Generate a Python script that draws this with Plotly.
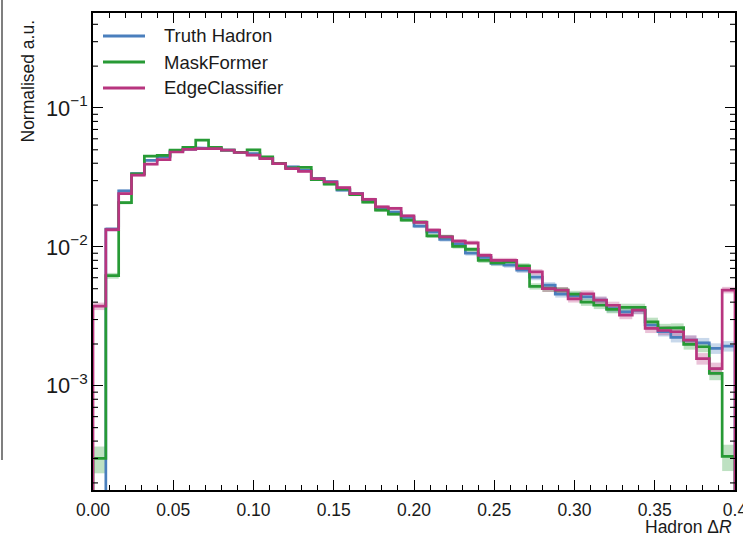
import numpy as np
import plotly.graph_objects as go

# ---------------- data ----------------
bin_lo = 0.0
bin_hi = 0.4
n_bins = 50

truth_hadron = [0.0, 1.34e-2, 2.53e-2, 3.37e-2, 4.2e-2, 4.44e-2, 4.9e-2, 5.05e-2, 5.15e-2, 5.1e-2,
                4.97e-2, 4.8e-2, 4.7e-2, 4.35e-2, 3.98e-2, 3.77e-2, 3.55e-2, 3.12e-2, 2.95e-2, 2.56e-2,
                2.42e-2, 2.18e-2, 1.9e-2, 1.78e-2, 1.63e-2, 1.41e-2, 1.28e-2, 1.13e-2, 1.05e-2, 9.0e-3,
                8.4e-3, 7.6e-3, 7.4e-3, 6.8e-3, 6.05e-3, 5.3e-3, 4.57e-3, 4.45e-3, 4.37e-3, 4.14e-3,
                3.6e-3, 3.4e-3, 3.5e-3, 2.74e-3, 2.45e-3, 2.23e-3, 2.13e-3, 2.04e-3, 1.86e-3, 1.93e-3]

maskformer = [3.0e-4, 6.2e-3, 2.08e-2, 3.35e-2, 4.5e-2, 4.55e-2, 4.97e-2, 5.21e-2, 5.86e-2, 5.2e-2,
              4.97e-2, 4.8e-2, 5.0e-2, 4.44e-2, 4.0e-2, 3.7e-2, 3.73e-2, 3.05e-2, 2.83e-2, 2.6e-2,
              2.38e-2, 2.1e-2, 1.84e-2, 1.72e-2, 1.56e-2, 1.51e-2, 1.2e-2, 1.18e-2, 1.01e-2, 9.6e-3,
              8.0e-3, 7.67e-3, 7.8e-3, 7.3e-3, 5.2e-3, 5.0e-3, 4.88e-3, 4.57e-3, 4.0e-3, 3.8e-3,
              3.55e-3, 3.67e-3, 3.67e-3, 2.89e-3, 2.6e-3, 2.62e-3, 1.99e-3, 1.91e-3, 1.23e-3, 3.1e-4]

edgeclassifier = [3.74e-3, 1.33e-2, 2.42e-2, 3.28e-2, 3.94e-2, 4.25e-2, 4.82e-2, 5.03e-2, 5.1e-2, 5.1e-2,
                  4.97e-2, 4.78e-2, 4.57e-2, 4.32e-2, 3.98e-2, 3.66e-2, 3.5e-2, 3.1e-2, 2.93e-2, 2.67e-2,
                  2.42e-2, 2.2e-2, 1.94e-2, 1.89e-2, 1.67e-2, 1.5e-2, 1.32e-2, 1.18e-2, 1.1e-2, 1.07e-2,
                  8.7e-3, 8.0e-3, 8.0e-3, 7.0e-3, 6.6e-3, 5.0e-3, 4.88e-3, 4.22e-3, 4.6e-3, 4.14e-3,
                  3.8e-3, 3.23e-3, 3.5e-3, 2.59e-3, 2.5e-3, 2.45e-3, 2.13e-3, 1.57e-3, 1.33e-3, 4.89e-3]

series_names = ["Truth Hadron", "MaskFormer", "EdgeClassifier"]
series_values = [truth_hadron, maskformer, edgeclassifier]
series_colors = ["#4a7fbd", "#279a35", "#b8357f"]
band_colors = ["rgba(74,127,189,0.30)", "rgba(39,154,53,0.30)", "rgba(184,53,127,0.30)"]
n_events = 70000  # effective statistics used for the Poisson uncertainty band

x_ticks = [0.0, 0.05, 0.10, 0.15, 0.20, 0.25, 0.30, 0.35, 0.4]
x_ticklabels = ["0.00", "0.05", "0.10", "0.15", "0.20", "0.25", "0.30", "0.35", "0.4"]
y_range_log = [-3.75, -0.3165]

FONT = "Liberation Sans, Arial, Helvetica"
TXT = "#1a1a1a"

# ---------------- figure ----------------
edges = np.linspace(bin_lo, bin_hi, n_bins + 1)
floor = 1e-7
fig = go.Figure()

# uncertainty bands
for vals, bc in zip(series_values, band_colors):
    v = np.array(vals, dtype=float)
    err = np.sqrt(np.clip(v, 0, None) / n_events)
    for i in range(n_bins):
        if v[i] <= 0:
            continue
        lo = max(v[i] - err[i], floor)
        hi = v[i] + err[i]
        fig.add_trace(go.Scatter(
            x=[edges[i], edges[i + 1], edges[i + 1], edges[i], edges[i]],
            y=[lo, lo, hi, hi, lo],
            mode="lines", line=dict(width=0), fill="toself", fillcolor=bc,
            hoverinfo="skip", showlegend=False))

# step histograms
for name, vals, col in zip(series_names, series_values, series_colors):
    v = np.array(vals, dtype=float)
    v = np.where(v > 0, v, floor)
    xs = np.concatenate([[edges[0]], np.repeat(edges, 2)[1:-1], [edges[-1]]])
    ys = np.concatenate([[floor], np.repeat(v, 2), [floor]])
    fig.add_trace(go.Scatter(x=xs, y=ys, mode="lines", name=name, showlegend=False,
                             line=dict(color=col, width=2.7)))

axis_common = dict(showline=True, linecolor="black", linewidth=1.6, mirror="allticks",
                   ticks="inside", tickcolor="black", tickwidth=1.3, showgrid=False,
                   zeroline=False, automargin=False,
                   tickfont=dict(family=FONT, size=17.5, color=TXT))

fig.update_xaxes(range=[bin_lo, bin_hi], tickvals=x_ticks, ticktext=x_ticklabels, ticklen=10,
                 ticklabelstandoff=3, ticklabeloverflow="allow",
                 minor=dict(ticks="inside", ticklen=5, dtick=0.01, tick0=0, tickcolor="black",
                            tickwidth=1.1, showgrid=False),
                 **axis_common)
fig.update_yaxes(type="log", range=y_range_log, dtick=1, exponentformat="power",
                 ticklen=10, **axis_common)

def px_x(px):
    return (px - 93.0) / 642.0

def px_y(py):
    return (490.0 - py) / 477.0

# minor log ticks on the left and right spines (shape y is in data units)
minor_vals = [m * 10.0 ** d for d in range(-4, 0) for m in range(2, 10)]
tick_frac = 5.0 / 642.0
for mv in minor_vals:
    ly = np.log10(mv)
    if not (y_range_log[0] < ly < y_range_log[1]):
        continue
    for xa, xb in [(0.0, tick_frac), (1.0 - tick_frac, 1.0)]:
        fig.add_shape(type="line", xref="paper", yref="y", x0=xa, x1=xb, y0=mv, y1=mv,
                      line=dict(color="black", width=1.1), layer="above")

fig.add_annotation(text="Normalised a.u.", textangle=-90, xref="paper", yref="paper",
                   x=px_x(28), y=px_y(18), xanchor="center", yanchor="top", showarrow=False,
                   font=dict(family=FONT, size=17.5, color=TXT))
fig.add_annotation(text="Hadron Δ<i>R</i>", xref="paper", yref="paper",
                   x=px_x(734), y=px_y(527), xanchor="right", yanchor="middle", showarrow=False,
                   font=dict(family=FONT, size=17.5, color=TXT))

# legend (drawn by hand to match line length and spacing)
legend_rows = [36, 62, 88]
for name, col, row in zip(series_names, series_colors, legend_rows):
    fig.add_shape(type="line", xref="paper", yref="paper", x0=px_x(103), x1=px_x(145),
                  y0=px_y(row), y1=px_y(row), line=dict(color=col, width=3.2))
    fig.add_annotation(text=name, xref="paper", yref="paper", x=px_x(162), y=px_y(row),
                       xanchor="left", yanchor="middle", showarrow=False,
                       font=dict(family=FONT, size=18.5, color=TXT))

# thin border artefact at the left edge of the reference image
fig.add_shape(type="line", xref="paper", yref="paper", x0=px_x(2), x1=px_x(2), y0=px_y(460), y1=px_y(0),
              line=dict(color="#555", width=1.5))

fig.update_layout(
    width=743, height=540,
    margin=dict(l=93, r=8, t=13, b=50, autoexpand=False),
    paper_bgcolor="white", plot_bgcolor="white",
    showlegend=False,
)

fig.write_html("out.html")
